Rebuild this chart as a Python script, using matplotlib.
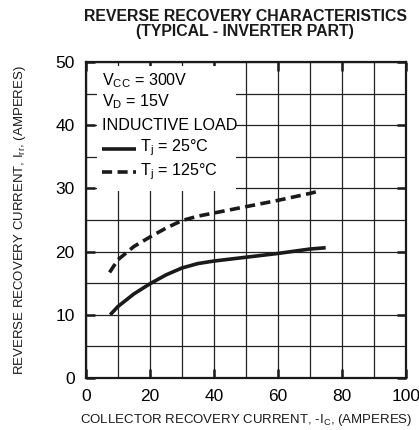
import matplotlib
matplotlib.use("Agg")
import matplotlib.pyplot as plt
from matplotlib.patches import Rectangle

ic_25 = [7.6, 10, 15, 20, 25, 30, 35, 40, 50, 60, 70, 74.9]
irr_25 = [10.0, 11.3, 13.3, 14.9, 16.3, 17.4, 18.1, 18.5, 19.1, 19.7, 20.4, 20.6]
ic_125 = [7.4, 10, 15, 20, 25, 30, 35, 40, 50, 60, 70, 73.1]
irr_125 = [16.7, 18.7, 20.8, 22.3, 23.7, 24.9, 25.6, 26.1, 27.1, 28.1, 29.2, 29.6]

x_ticks = [0, 20, 40, 60, 80, 100]
y_ticks = [0, 10, 20, 30, 40, 50]

plt.rcParams.update({"font.family": ["Liberation Sans", "DejaVu Sans"],
                     "mathtext.fontset": "custom",
                     "mathtext.rm": "Liberation Sans",
                     "mathtext.it": "Liberation Sans:italic"})

ink = "#1a1a1a"
dash = (2.8, 1.5)

fig = plt.figure(figsize=(4.19, 4.30), dpi=100)
ax = fig.add_axes([0.205, 0.121, 0.764, 0.735])

ax.plot(ic_25, irr_25, "-", color=ink, lw=2.6, solid_capstyle="butt", zorder=3)
ax.plot(ic_125, irr_125, "--", color=ink, lw=2.6, dashes=dash, zorder=3)

ax.set_xlim(0, 100)
ax.set_ylim(0, 50)
ax.set_xticks(x_ticks)
ax.set_yticks(y_ticks)
ax.set_xticks(range(0, 101, 10), minor=True)
ax.set_yticks(range(0, 51, 5), minor=True)
ax.tick_params(which="major", direction="in", length=6.5, width=1.8,
               top=True, right=True, labelsize=12.5, pad=8, color=ink)
ax.tick_params(which="minor", length=0, top=True, right=True)
ax.grid(which="both", color="#222222", lw=0.9)
ax.set_axisbelow(True)
for s in ax.spines.values():
    s.set_linewidth(1.6)
    s.set_color(ink)

# white patch behind the conditions block
ax.add_patch(Rectangle((3.5, 29.6), 43.5, 19.8, facecolor="white",
                       edgecolor="none", zorder=1))
fs = 11.6
ax.text(4.9, 47.1, r"V$_{\mathrm{CC}}$ = 300V", fontsize=fs, va="center", zorder=4)
ax.text(4.9, 43.7, r"V$_{\mathrm{D}}$ = 15V", fontsize=fs, va="center", zorder=4)
ax.text(4.9, 39.9, "INDUCTIVE LOAD", fontsize=fs, va="center", zorder=4)
ax.plot([4.9, 15.8], [36.2, 36.2], "-", color=ink, lw=2.6,
        solid_capstyle="butt", zorder=4)
ax.plot([4.9, 15.8], [32.6, 32.6], "--", color=ink, lw=2.6, dashes=dash, zorder=4)
ax.text(16.9, 36.5, r"T$_{\mathrm{j}}$ = 25°C", fontsize=fs, va="center", zorder=4)
ax.text(16.9, 32.7, r"T$_{\mathrm{j}}$ = 125°C", fontsize=fs, va="center", zorder=4)

ax.set_xlabel(r"COLLECTOR RECOVERY CURRENT, -I$_{\mathrm{C}}$, (AMPERES)",
              fontsize=9.5, color=ink, va="center")
ax.set_ylabel(r"REVERSE RECOVERY CURRENT, I$_{\mathrm{rr}}$, (AMPERES)",
              fontsize=9.5, color=ink, va="center")
ax.xaxis.set_label_coords(0.5, -0.133)
ax.yaxis.set_label_coords(-0.206, 0.5)

fig.text(0.585, 1 - 9 / 430, "REVERSE RECOVERY CHARACTERISTICS\n(TYPICAL - INVERTER PART)",
         fontsize=11.4, fontweight="bold", linespacing=1.0, ha="center", va="top",
         color=ink)

fig.savefig("out.png", dpi=100)
